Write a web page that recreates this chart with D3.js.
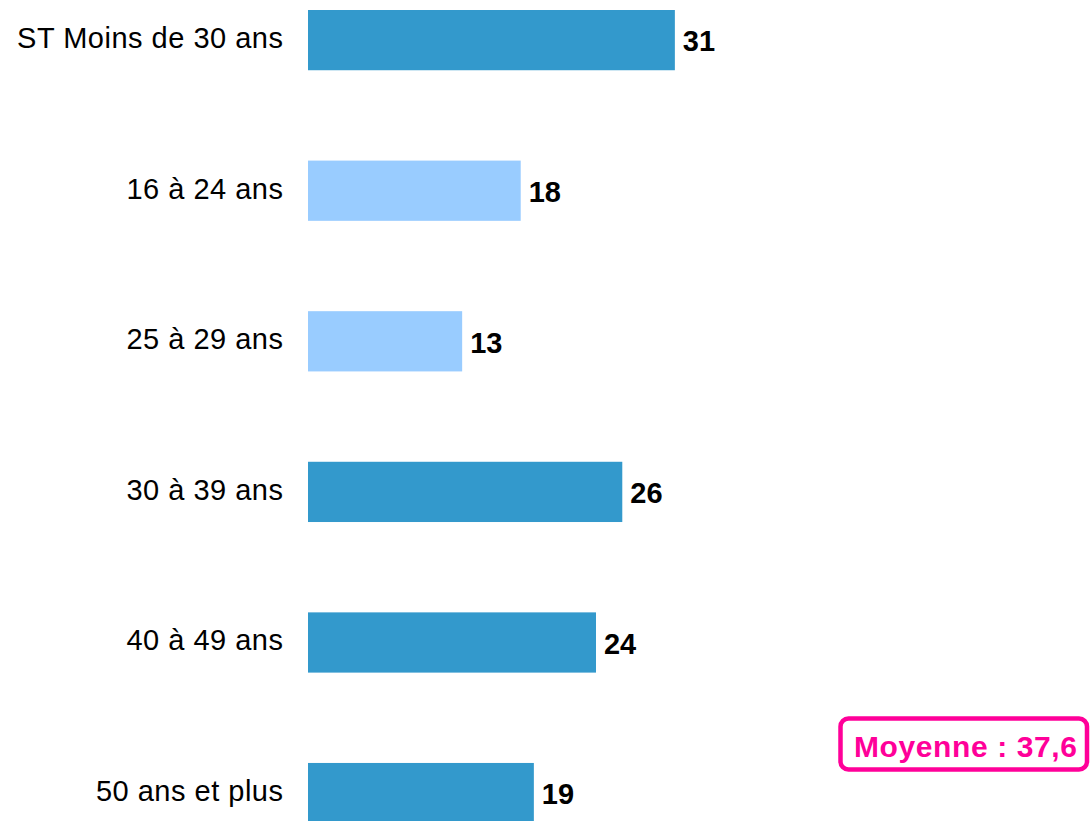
<!DOCTYPE html>
<html>
<head>
<meta charset="utf-8">
<script src="https://cdn.jsdelivr.net/npm/d3@7"></script>
<style>
    body { margin: 0; background: #ffffff; }
    svg { display: block; }
</style>
</head>
<body>
<div id="maindiv"></div>
<script>
// values (labels show them rounded)
var categories = ["ST Moins de 30 ans", "16 à 24 ans", "25 à 29 ans", "30 à 39 ans", "40 à 49 ans", "50 ans et plus"];
var values = [30.7, 17.8, 12.9, 26.3, 24.1, 18.9];
var isSubGroup = [false, true, true, false, false, false];
var averageLabel = "Moyenne : 37,6";

function generateGraph() {
    var width = 1090;
    var height = 821;

    var data = categories.map(function (c, i) {
        return { name: c, value: values[i], sub: isSubGroup[i] };
    });

    var svg = d3.select("#maindiv")
        .append("svg")
        .attr("width", width)
        .attr("height", height);

    var x = d3.scaleLinear()
        .domain([0, 50])
        .range([308, 308 + 50 * 11.95]);

    var y = d3.scaleBand()
        .domain(d3.range(data.length))
        .range([10, 823.2])
        .paddingInner(0.6)
        .paddingOuter(0);

    var fmt = d3.format(".0f");

    svg.append("g")
        .selectAll("rect")
        .data(data)
        .enter()
        .append("rect")
        .attr("x", x(0))
        .attr("y", (d, i) => y(i))
        .attr("width", d => x(d.value) - x(0))
        .attr("height", y.bandwidth())
        .attr("fill", d => d.sub ? "#99ccff" : "#3399cc");

    // category labels on the left
    svg.append("g")
        .selectAll("text")
        .data(data)
        .enter()
        .append("text")
        .attr("x", 283.5)
        .attr("y", (d, i) => y(i) + y.bandwidth() / 2 + 8)
        .attr("text-anchor", "end")
        .attr("font-family", "Liberation Sans, Arial, sans-serif")
        .attr("font-size", "29px")
        .attr("letter-spacing", "0.5px")
        .attr("fill", "#000000")
        .text(d => d.name);

    // value labels at the end of the bars
    svg.append("g")
        .selectAll("text")
        .data(data)
        .enter()
        .append("text")
        .attr("x", d => x(d.value) + 8)
        .attr("y", (d, i) => y(i) + y.bandwidth() / 2 + 11.3)
        .attr("font-family", "Liberation Sans, Arial, sans-serif")
        .attr("font-size", "29px")
        .attr("font-weight", "bold")
        .attr("fill", "#000000")
        .text(d => fmt(d.value));

    // average box
    var box = svg.append("g");
    box.append("rect")
        .attr("x", 840.5)
        .attr("y", 718.5)
        .attr("width", 246.5)
        .attr("height", 51)
        .attr("rx", 8)
        .attr("fill", "#ffffff")
        .attr("stroke", "#ff0099")
        .attr("stroke-width", 4.5);
    box.append("text")
        .attr("x", 854)
        .attr("y", 757)
        .attr("font-family", "Liberation Sans, Arial, sans-serif")
        .attr("font-size", "30px")
        .attr("font-weight", "bold")
        .attr("letter-spacing", "0.6px")
        .attr("fill", "#ff0099")
        .text(averageLabel);
}

generateGraph();
</script>
</body>
</html>
